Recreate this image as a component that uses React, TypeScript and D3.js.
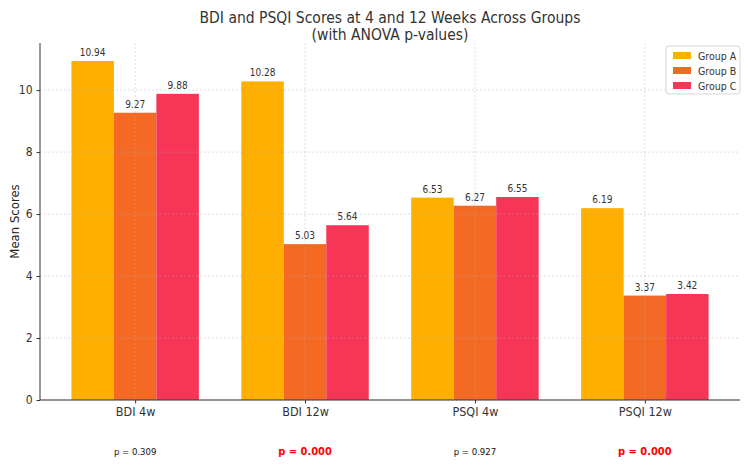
import { useEffect, useRef } from "react";
import * as d3 from "d3";

const categories = ["BDI 4w", "BDI 12w", "PSQI 4w", "PSQI 12w"];
const groups = ["Group A", "Group B", "Group C"];
const groupA = [10.94, 10.28, 6.53, 6.19];
const groupB = [9.27, 5.03, 6.27, 3.37];
const groupC = [9.88, 5.64, 6.55, 3.42];
const pValues = [0.309, 0.0, 0.927, 0.0];
const yTicks = [0, 2, 4, 6, 8, 10];
const colors = ["#FFAF00", "#F46A25", "#F73557"];

const FONT = "'DejaVu Sans Condensed', 'DejaVu Sans', sans-serif";

export default function App() {
  const ref = useRef<SVGSVGElement>(null);

  useEffect(() => {
    const svg = d3.select(ref.current);
    svg.selectAll("*").remove();

    const width = 750;
    const height = 467;
    const left = 40;
    const right = 740;
    const top = 43;
    const bottom = 400;

    const series = [groupA, groupB, groupC];
    const barW = 0.25;

    const x = d3.scaleLinear().domain([-0.56, 3.56]).range([left, right]);
    const y = d3.scaleLinear().domain([0, 11.52]).range([bottom, top]);

    svg.attr("width", width).attr("height", height).style("font-family", FONT);

    // bars + value labels
    series.forEach((vals, gi) => {
      svg
        .append("g")
        .selectAll("rect")
        .data(vals)
        .enter()
        .append("rect")
        .attr("x", (_, i) => x(i + (gi - 1) * barW - barW / 2))
        .attr("width", x(barW) - x(0))
        .attr("y", (d) => y(d))
        .attr("height", (d) => bottom - y(d))
        .attr("fill", colors[gi]);

      svg
        .append("g")
        .selectAll("text")
        .data(vals)
        .enter()
        .append("text")
        .attr("x", (_, i) => x(i + (gi - 1) * barW))
        .attr("y", (d) => y(d) - 5)
        .attr("text-anchor", "middle")
        .attr("font-size", 10)
        .attr("fill", "#333")
        .text((d) => d.toFixed(2));
    });

    // grid
    const grid = svg.append("g").attr("stroke", "#b0b0b0").attr("stroke-opacity", 0.5)
      .attr("stroke-dasharray", "2,2").attr("stroke-width", 0.8);
    yTicks.forEach((t) => {
      grid.append("line").attr("x1", left).attr("x2", right).attr("y1", y(t)).attr("y2", y(t));
    });
    categories.forEach((_, i) => {
      grid.append("line").attr("x1", x(i)).attr("x2", x(i)).attr("y1", top).attr("y2", bottom);
    });

    // axes
    const yAxis = svg
      .append("g")
      .attr("transform", `translate(${left},0)`)
      .call(d3.axisLeft(y).tickValues(yTicks).tickFormat(d3.format("d")).tickSize(3.5).tickPadding(4));
    yAxis.select(".domain").attr("d", `M0,${top}V${bottom}`).attr("stroke", "#333");
    yAxis.selectAll("text").attr("font-size", 12).attr("fill", "#333").style("font-family", FONT);
    yAxis.selectAll("line").attr("stroke", "#333");

    const xAxis = svg
      .append("g")
      .attr("transform", `translate(0,${bottom})`)
      .call(
        d3
          .axisBottom(x)
          .tickValues(categories.map((_, i) => i))
          .tickFormat((d) => categories[d as number])
          .tickSize(3.5)
          .tickPadding(4)
      );
    xAxis.select(".domain").attr("d", `M${left},0H${right}`).attr("stroke", "#333");
    xAxis.selectAll("text").attr("font-size", 12.5).attr("fill", "#333").style("font-family", FONT);
    xAxis.selectAll("line").attr("stroke", "#333");

    // p-values under each category
    svg
      .append("g")
      .selectAll("text")
      .data(pValues)
      .enter()
      .append("text")
      .attr("x", (_, i) => x(i))
      .attr("y", 455)
      .attr("text-anchor", "middle")
      .attr("font-size", (d) => (d < 0.05 ? 11 : 9.5))
      .attr("font-weight", (d) => (d < 0.05 ? "bold" : "normal"))
      .attr("fill", (d) => (d < 0.05 ? "#ff0000" : "#111"))
      .text((d) => `p = ${d.toFixed(3)}`);

    // y label
    svg
      .append("text")
      .attr("transform", `translate(19,${(top + bottom) / 2}) rotate(-90)`)
      .attr("text-anchor", "middle")
      .attr("font-size", 13)
      .attr("fill", "#222")
      .text("Mean Scores");

    // title
    const title = svg.append("text").attr("text-anchor", "middle").attr("font-size", 15.5).attr("fill", "#333");
    title.append("tspan").attr("x", (left + right) / 2).attr("y", 23).text("BDI and PSQI Scores at 4 and 12 Weeks Across Groups");
    title.append("tspan").attr("x", (left + right) / 2).attr("y", 39.5).text("(with ANOVA p-values)");

    // legend
    const lg = svg.append("g").attr("transform", "translate(666,46)");
    lg.append("rect")
      .attr("width", 74)
      .attr("height", 48)
      .attr("rx", 3)
      .attr("fill", "white")
      .attr("fill-opacity", 0.8)
      .attr("stroke", "#d5d5d5");
    groups.forEach((g, i) => {
      lg.append("rect").attr("x", 7).attr("y", 6 + i * 15).attr("width", 18).attr("height", 7).attr("fill", colors[i]);
      lg.append("text").attr("x", 32).attr("y", 13.5 + i * 15).attr("font-size", 10.5).attr("fill", "#333").text(g);
    });
  }, []);

  return <svg ref={ref} width={750} height={467} style={{ display: "block", margin: "-8px" }} />;
}
